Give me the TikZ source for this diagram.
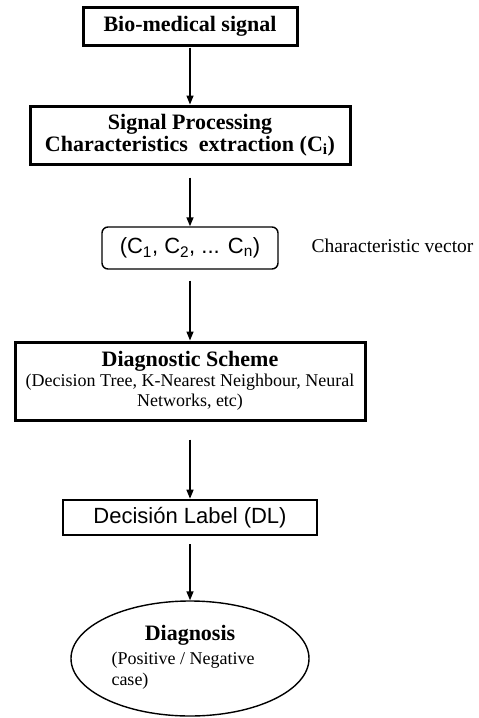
\documentclass[tikz,border=0pt]{standalone}
\usepackage{fontspec}
\setmainfont{Liberation Serif}
\newfontfamily\arialfont{Liberation Sans}
\usetikzlibrary{arrows.meta,shapes.geometric}
\begin{document}
\begin{tikzpicture}[x=1pt,y=-1pt,
  titlefont/.style={font=\fontsize{22}{22}\selectfont\bfseries},
  heavybox/.style={draw, rectangle, line width=3pt, inner sep=0pt, align=center},
  thinround/.style={draw, rectangle, rounded corners=6pt, line width=1.4pt, inner sep=0pt},
  oval/.style={draw, ellipse, line width=1.4pt, inner sep=0pt},
  flow/.style={line width=1.4pt, -{Triangle[length=9pt,width=7pt]}}]
\useasboundingbox (0,0) rectangle (479,718);

% boxes of the flow, all centred on one column
\node[heavybox, titlefont, minimum width=214pt, minimum height=38pt]
  (signal) at (190,26) {Bio-medical signal};
\node[heavybox, titlefont, minimum width=320pt, minimum height=58pt]
  (proc) at (190,135) {Signal Processing\\Characteristics\ \ extraction (C\textsubscript{i})};
\node[thinround, minimum width=176pt, minimum height=42pt,
  font=\arialfont\fontsize{22}{22}\selectfont]
  (vec) at (190,248) {(C\textsubscript{1}, C\textsubscript{2}, ... C\textsubscript{n})};
\node[anchor=base west, font=\fontsize{19.5}{21}\selectfont]
  (veclabel) at (308,252) {Characteristic vector};
\node[heavybox, minimum width=350pt, minimum height=78pt,
  font=\fontsize{18}{20}\selectfont]
  (scheme) at (190,381) {{\fontsize{22}{22}\selectfont\bfseries Diagnostic Scheme}\\(Decision Tree, K-Nearest Neighbour, Neural\\Networks, etc)};
\node[draw, rectangle, line width=2.6pt, inner sep=0pt, minimum width=254pt, minimum height=35pt,
  font=\arialfont\fontsize{22}{22}\selectfont]
  (label) at (190,517.5) {Decisión Label (DL)};
\node[oval, minimum width=238pt, minimum height=115pt, font=\fontsize{18}{21}\selectfont]
  (diag) at (190,658.5) {\begin{tabular}{@{}l@{}}\multicolumn{1}{@{}c@{}}{\fontsize{22}{22}\selectfont\bfseries Diagnosis}\\[3pt](Positive / Negative\hspace*{14pt}\\case)\end{tabular}};

% connectors
\draw[flow, shorten <=1pt] (signal) -- (proc);
\draw[flow, shorten <=12pt] (proc) -- (vec);
\draw[flow, shorten <=11pt] (vec) -- (scheme);
\draw[flow, shorten <=18pt] (scheme) -- (label);
\draw[flow, shorten <=8pt] (label) -- (diag);
\end{tikzpicture}
\end{document}
